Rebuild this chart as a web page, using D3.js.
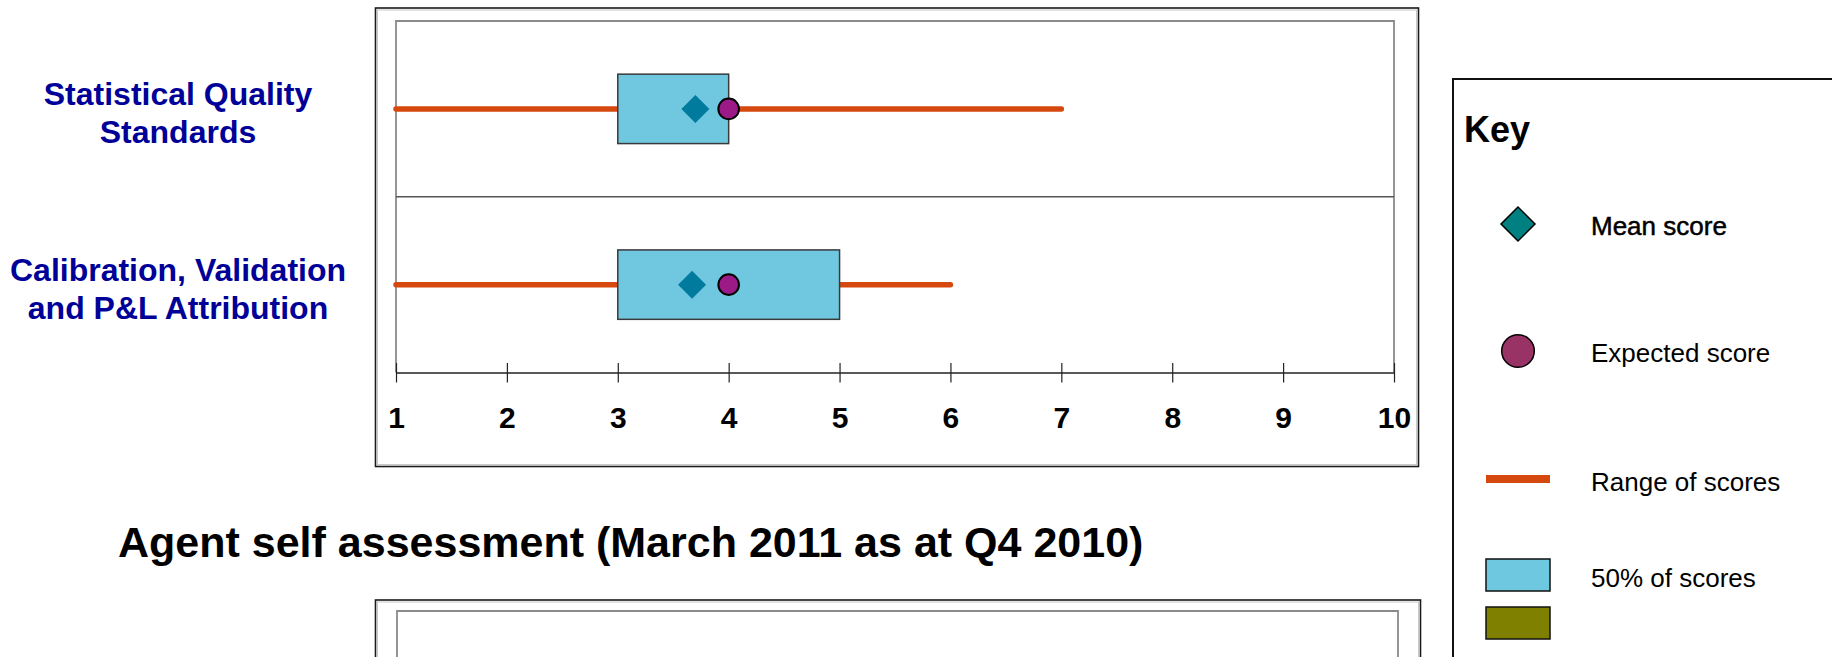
<!DOCTYPE html>
<html>
<head>
<meta charset="utf-8">
<script src="https://cdn.jsdelivr.net/npm/d3@7/dist/d3.min.js"></script>
<style>
  html, body { margin: 0; padding: 0; background: #ffffff; overflow: hidden; }
  svg { display: block; font-family: "Liberation Sans", Arial, sans-serif; }
</style>
</head>
<body>
<svg id="chart" width="1832" height="657"></svg>
<script>
// Score distributions per assessment area
const categories = ["Statistical Quality Standards", "Calibration, Validation and P&L Attribution"];
const categoryLines = [["Statistical Quality", "Standards"], ["Calibration, Validation", "and P&L Attribution"]];
const rangeMin = [1, 1];
const rangeMax = [7, 6];
const quartileLow = [3, 3];
const quartileHigh = [4, 5];
const meanScore = [3.7, 3.67];
const expectedScore = [4, 4];
const tickValues = [1, 2, 3, 4, 5, 6, 7, 8, 9, 10];

const sectionTitle = "Agent self assessment (March 2011 as at Q4 2010)";
const keyTitle = "Key";
const keyLabels = ["Mean score", "Expected score", "Range of scores", "50% of scores"];

const rows = categories.map((c, i) => ({
  name: c, lines: categoryLines[i],
  lo: rangeMin[i], hi: rangeMax[i],
  q1: quartileLow[i], q3: quartileHigh[i],
  mean: meanScore[i], expected: expectedScore[i]
}));

const svg = d3.select("#chart");

// Plot geometry
const plot = { left: 396, right: 1394, top: 21, axisY: 372.5 };

const x = d3.scaleLinear().domain([1, 10]).range([plot.left, plot.right]);
const y = d3.scaleBand().domain(categories).range([plot.top, plot.axisY]).paddingInner(0).paddingOuter(0);
const boxH = y.bandwidth() * 0.395;

// Outer frame of the upper chart
svg.append("rect").attr("x", 375.5).attr("y", 8).attr("width", 1043).attr("height", 458.5)
  .attr("fill", "none").attr("stroke", "#1a1a1a").attr("stroke-width", 1.6);
svg.append("rect").attr("x", 377.5).attr("y", 10).attr("width", 1039).attr("height", 454.5)
  .attr("fill", "none").attr("stroke", "#c8c8c8").attr("stroke-width", 1);

// Inner plot frame (top, left, right)
const frame = svg.append("g").attr("fill", "none").attr("stroke", "#8a8a8a").attr("stroke-width", 1.8);
frame.append("path").attr("d", `M${plot.left},${plot.axisY} V${plot.top} H${plot.right} V${plot.axisY}`);

// Row divider
categories.slice(1).forEach(c => {
  svg.append("line").attr("x1", plot.left).attr("x2", plot.right)
    .attr("y1", y(c)).attr("y2", y(c))
    .attr("stroke", "#555").attr("stroke-width", 1.3);
});

// Axis
const axis = d3.axisBottom(x).tickValues(tickValues).tickFormat(d3.format("d")).tickSizeOuter(0);
const axisG = svg.append("g").attr("transform", `translate(0,${plot.axisY})`).call(axis);
axisG.select(".domain").attr("stroke", "#222").attr("stroke-width", 1.6);
axisG.selectAll(".tick line").attr("y1", -9.5).attr("y2", 10).attr("stroke", "#222").attr("stroke-width", 1.2);
axisG.selectAll(".tick text")
  .attr("y", 55.5).attr("dy", null)
  .attr("font-family", "'Liberation Sans', Arial, sans-serif")
  .attr("font-size", 30).attr("font-weight", "bold").attr("fill", "#000");

// Category labels
const labelG = svg.append("g");
rows.forEach(r => {
  const cy = y(r.name) + y.bandwidth() / 2;
  const t = labelG.append("text").attr("x", 178).attr("text-anchor", "middle")
    .attr("font-size", 32).attr("font-weight", "bold").attr("fill", "#000099");
  r.lines.forEach((ln, j) => {
    t.append("tspan").attr("x", 178).attr("y", cy - 4 + j * 38.5).text(ln);
  });
});

// Marks
const marks = svg.append("g");
rows.forEach(r => {
  const cy = y(r.name) + y.bandwidth() / 2;
  // range of scores
  marks.append("line").attr("x1", x(r.lo)).attr("x2", x(r.hi)).attr("y1", cy).attr("y2", cy)
    .attr("stroke", "#d5490f").attr("stroke-width", 5.5).attr("stroke-linecap", "round");
  // middle 50% of scores
  marks.append("rect").attr("x", x(r.q1)).attr("y", cy - boxH / 2)
    .attr("width", x(r.q3) - x(r.q1)).attr("height", boxH)
    .attr("fill", "#6fc8df").attr("stroke", "#3a3a3a").attr("stroke-width", 1.5);
  // mean score
  marks.append("path").attr("d", d3.symbol().type(d3.symbolSquare).size(392)())
    .attr("transform", `translate(${x(r.mean)},${cy}) rotate(45)`)
    .attr("fill", "#007b9e");
  // expected score
  marks.append("circle").attr("cx", x(r.expected)).attr("cy", cy).attr("r", 10.3)
    .attr("fill", "#9c1a87").attr("stroke", "#000").attr("stroke-width", 2);
});

// Section title for the lower chart
svg.append("text").attr("x", 118).attr("y", 557)
  .attr("font-size", 43).attr("font-weight", "bold").attr("fill", "#000").text(sectionTitle);

// Lower chart frame (continues below the visible area)
svg.append("rect").attr("x", 375.5).attr("y", 600).attr("width", 1045).attr("height", 200)
  .attr("fill", "none").attr("stroke", "#1a1a1a").attr("stroke-width", 1.6);
svg.append("rect").attr("x", 377.5).attr("y", 602).attr("width", 1041).attr("height", 200)
  .attr("fill", "none").attr("stroke", "#c8c8c8").attr("stroke-width", 1);
svg.append("path").attr("d", "M397,700 V611 H1398 V700")
  .attr("fill", "none").attr("stroke", "#8a8a8a").attr("stroke-width", 1.8);

// Key
const key = svg.append("g");
key.append("rect").attr("x", 1453).attr("y", 79).attr("width", 500).attr("height", 700)
  .attr("fill", "#fff").attr("stroke", "#111").attr("stroke-width", 2);
key.append("text").attr("x", 1464).attr("y", 142).attr("font-size", 36).attr("font-weight", "bold")
  .attr("fill", "#000").text(keyTitle);

const keyX = 1518, keyTextX = 1591;
key.append("path").attr("d", d3.symbol().type(d3.symbolSquare).size(578)())
  .attr("transform", `translate(${keyX},224) rotate(45)`)
  .attr("fill", "#008080").attr("stroke", "#000").attr("stroke-width", 1.5);
key.append("circle").attr("cx", keyX).attr("cy", 351).attr("r", 16.3)
  .attr("fill", "#993366").attr("stroke", "#000").attr("stroke-width", 1.5);
key.append("rect").attr("x", 1486).attr("y", 475).attr("width", 64).attr("height", 8)
  .attr("fill", "#d5490f");
key.append("rect").attr("x", 1486).attr("y", 559).attr("width", 64).attr("height", 32)
  .attr("fill", "#6ec8e0").attr("stroke", "#111").attr("stroke-width", 1.5);
key.append("rect").attr("x", 1486).attr("y", 607).attr("width", 64).attr("height", 32)
  .attr("fill", "#808000").attr("stroke", "#111").attr("stroke-width", 1.5);

const keyBaselines = [235, 362, 491, 587];
keyLabels.forEach((lbl, i) => {
  key.append("text").attr("x", keyTextX).attr("y", keyBaselines[i])
    .attr("font-size", 26).attr("fill", "#000")
    .attr("stroke", i === 0 ? "#000" : "none").attr("stroke-width", i === 0 ? 0.5 : 0)
    .text(lbl);
});
</script>
</body>
</html>
